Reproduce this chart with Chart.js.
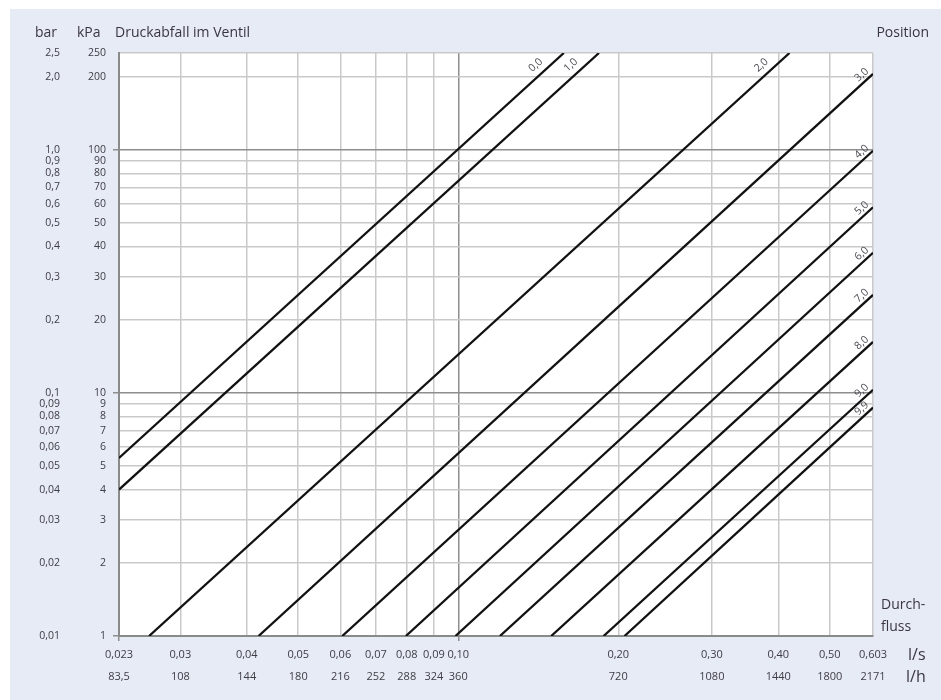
<!DOCTYPE html>
<html>
<head>
<meta charset="utf-8">
<script src="https://cdn.jsdelivr.net/npm/chart.js@4.4.1/dist/chart.umd.min.js"></script>
<style>
  html, body { margin: 0; padding: 0; background: #fff; }
  #wrap { width: 941px; height: 700px; }
</style>
</head>
<body>
<div id="wrap"><canvas id="chart" width="941" height="700"></canvas></div>
<script>
// valve positions and where each line enters / leaves the plot
const positions = ['0,0', '1,0', '2,0', '3,0', '4,0', '5,0', '6,0', '7,0', '8,0', '9,0', '9,9'];
const flowStart = [0.023, 0.023, 0.0262, 0.0421, 0.0605, 0.0797, 0.0988, 0.1198, 0.1496, 0.1877, 0.2055];
const dpStart   = [5.4, 4.0, 1, 1, 1, 1, 1, 1, 1, 1, 1];
const flowEnd   = [0.158, 0.184, 0.420, 0.603, 0.603, 0.603, 0.603, 0.603, 0.603, 0.603, 0.603];
const dpEnd     = [250, 250, 250, 205, 99, 58, 37.7, 25.3, 16.2, 10.3, 8.7];

// axis ticks
const flowTicks = [0.023, 0.03, 0.04, 0.05, 0.06, 0.07, 0.08, 0.09, 0.10, 0.20, 0.30, 0.40, 0.50, 0.603];
const flowLabelsLs = ['0,023', '0,03', '0,04', '0,05', '0,06', '0,07', '0,08', '0,09', '0,10', '0,20', '0,30', '0,40', '0,50', '0,603'];
const flowLabelsLh = ['83,5', '108', '144', '180', '216', '252', '288', '324', '360', '720', '1080', '1440', '1800', '2171'];
const kpaTicks = [1, 2, 3, 4, 5, 6, 7, 8, 9, 10, 20, 30, 40, 50, 60, 70, 80, 90, 100, 200, 250];
const kpaLabels = ['1', '2', '3', '4', '5', '6', '7', '8', '9', '10', '20', '30', '40', '50', '60', '70', '80', '90', '100', '200', '250'];
const barTicks = [0.01, 0.02, 0.03, 0.04, 0.05, 0.06, 0.07, 0.08, 0.09, 0.1, 0.2, 0.3, 0.4, 0.5, 0.6, 0.7, 0.8, 0.9, 1.0, 2.0, 2.5];
const barLabels = ['0,01', '0,02', '0,03', '0,04', '0,05', '0,06', '0,07', '0,08', '0,09', '0,1', '0,2', '0,3', '0,4', '0,5', '0,6', '0,7', '0,8', '0,9', '1,0', '2,0', '2,5'];

const FONT = "'Open Sans', 'Noto Sans', sans-serif";
const textColor = '#3e3c46';
const lightGrid = '#c9c9c9';
const darkGrid = '#8e8e8e';

const setTicks = (vals) => (scale) => { scale.ticks = vals.map(v => ({ value: v })); };
const near = (a, b) => Math.abs(a - b) < 1e-9;

const background = {
    id: 'background',
    beforeDraw(chart) {
        const { ctx, width, height, chartArea: a } = chart;
        ctx.save();
        ctx.fillStyle = '#ffffff';
        ctx.fillRect(0, 0, width, height);
        ctx.fillStyle = '#e6ebf5';
        ctx.fillRect(10, 9, width - 10, height - 9);
        ctx.fillStyle = '#ffffff';
        ctx.fillRect(a.left, a.top, a.right - a.left, a.bottom - a.top);
        ctx.restore();
    }
};

const annotations = {
    id: 'annotations',
    afterDatasetsDraw(chart) {
        const { ctx, chartArea: a } = chart;
        ctx.save();

        // position labels along each line
        ctx.font = `10.5px ${FONT}`;
        ctx.fillStyle = '#4a4a52';
        ctx.textAlign = 'center';
        ctx.textBaseline = 'middle';
        chart.data.datasets.forEach((ds, i) => {
            const pts = chart.getDatasetMeta(i).data;
            const p0 = pts[0], p1 = pts[1];
            const dx = p1.x - p0.x, dy = p1.y - p0.y;
            const len = Math.hypot(dx, dy);
            const ux = dx / len, uy = dy / len;
            const atTop = dpEnd[i] >= 250;
            const back = atTop ? 29 : 9;
            const off = atTop ? 10 : 7;
            const x = p1.x - ux * back + uy * off;
            const y = p1.y - uy * back - ux * off;
            ctx.save();
            ctx.translate(x, y);
            ctx.rotate(Math.atan2(dy, dx));
            ctx.fillText(positions[i], 0, 0);
            ctx.restore();
        });

        // header and side texts
        ctx.fillStyle = '#3a3542';
        ctx.textAlign = 'left';
        ctx.font = `14px ${FONT}`;
        ctx.fillText('bar', 35, 33);
        ctx.fillText('kPa', 77, 33);
        ctx.fillText('Druckabfall im Ventil', 115, 33);
        ctx.textAlign = 'right';
        ctx.fillText('Position', 929, 33);
        ctx.textAlign = 'left';
        ctx.fillText('Durch-', a.right + 8, a.bottom - 31);
        ctx.fillText('fluss', a.right + 8, a.bottom - 9);
        ctx.font = `16px ${FONT}`;
        ctx.fillText('l/s', a.right + 35, a.bottom + 19);
        ctx.fillText('l/h', a.right + 33, a.bottom + 41);
        ctx.restore();
    }
};

const datasets = positions.map((p, i) => ({
    label: p,
    data: [{ x: flowStart[i], y: dpStart[i] }, { x: flowEnd[i], y: dpEnd[i] }],
    borderColor: '#111',
    borderWidth: 2.3,
    pointRadius: 0,
    showLine: true,
    yAxisID: 'y'
}));

new Chart(document.getElementById('chart'), {
    type: 'scatter',
    data: { datasets },
    options: {
        responsive: false,
        animation: false,
        layout: { padding: { top: 53, right: 68, bottom: 0, left: 0 } },
        plugins: { legend: { display: false }, tooltip: { enabled: false } },
        scales: {
            x: {
                type: 'logarithmic',
                bounds: 'data',
                min: 0.023,
                max: 0.603,
                afterBuildTicks: setTicks(flowTicks),
                afterFit: (s) => { s.height = 64; },
                ticks: {
                    autoSkip: false,
                    maxRotation: 0,
                    padding: 3,
                    color: textColor,
                    font: { family: FONT, size: 11, lineHeight: 2.0 },
                    callback: (v, i) => [flowLabelsLs[i], flowLabelsLh[i]]
                },
                grid: {
                    lineWidth: 1.5,
                    tickLength: 5,
                    color: (c) => (c.tick && near(c.tick.value, 0.1)) ? darkGrid : lightGrid,
                    tickColor: (c) => (c.tick && (near(c.tick.value, 0.1) || near(c.tick.value, 0.023))) ? darkGrid : 'rgba(0,0,0,0)'
                },
                border: { color: '#8a8a8a', width: 2 }
            },
            y: {
                type: 'logarithmic',
                position: 'left',
                weight: 0,
                bounds: 'data',
                min: 1,
                max: 250,
                afterBuildTicks: setTicks(kpaTicks),
                afterFit: (s) => { s.width = 57; },
                ticks: {
                    autoSkip: false,
                    padding: 7,
                    color: textColor,
                    font: { family: FONT, size: 10.5 },
                    callback: (v, i) => kpaLabels[i]
                },
                grid: {
                    lineWidth: 1.5,
                    tickLength: 6,
                    color: (c) => (c.tick && (near(c.tick.value, 10) || near(c.tick.value, 100))) ? darkGrid : lightGrid,
                    tickColor: (c) => (c.tick && [1, 10, 100].some(v => near(c.tick.value, v))) ? darkGrid : 'rgba(0,0,0,0)'
                },
                border: { color: '#8a8a8a', width: 2 }
            },
            yBar: {
                type: 'logarithmic',
                position: 'left',
                weight: 1,
                bounds: 'data',
                min: 0.01,
                max: 2.5,
                afterBuildTicks: setTicks(barTicks),
                afterFit: (s) => { s.width = 62; },
                ticks: {
                    autoSkip: false,
                    padding: 2,
                    color: textColor,
                    font: { family: FONT, size: 10.5 },
                    callback: (v, i) => barLabels[i]
                },
                grid: { display: false, drawTicks: false },
                border: { display: false }
            }
        }
    },
    plugins: [background, annotations]
});
</script>
</body>
</html>
